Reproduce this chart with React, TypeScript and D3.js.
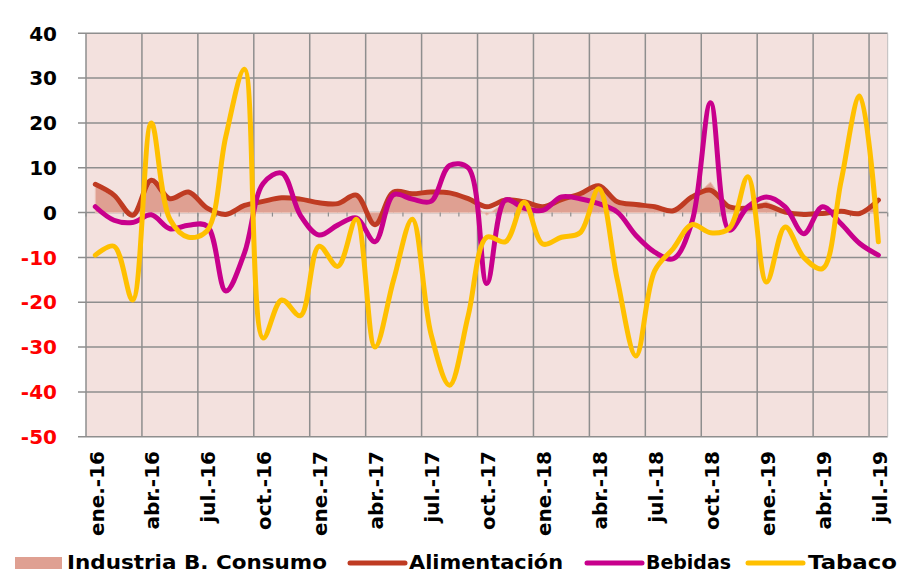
import React from 'react'
import * as d3 from 'd3'

const width = 901
const height = 574

const months = ['ene.', 'feb.', 'mar.', 'abr.', 'may.', 'jun.', 'jul.', 'ago.', 'sep.', 'oct.', 'nov.', 'dic.']
const years = ['16', '17', '18', '19']
const categories = years.flatMap(y => months.map(m => `${m}-${y}`)).slice(0, 43)

const industria = [6.0, 3.5, -0.5, 6.8, 3.0, 4.3, 1.0, -0.3, 1.5, 2.3, 3.0, 2.8, 2.0, 1.8, 3.6, -2.5, 4.3, 4.0, 4.3, 4.0, 3.0, -0.6, 2.5, 2.2, 1.2, 2.8, 3.8, 5.7, 2.2, 1.6, 1.2, 0.2, 3.2, 6.8, 0.8, 1.0, 2.5, 0.3, -0.5, -0.4, 0.2, -0.5, 2.5]
const alimentacion = [6.3, 3.9, -0.6, 7.2, 3.1, 4.6, 1.0, -0.4, 1.6, 2.5, 3.3, 3.0, 2.2, 2.0, 3.9, -2.7, 4.6, 4.2, 4.6, 4.4, 3.1, 1.3, 2.8, 2.4, 1.3, 2.9, 4.2, 6.0, 2.4, 1.8, 1.3, 0.4, 3.5, 5.0, 1.3, 1.0, 1.6, 0.1, -0.4, -0.2, 0.3, -0.2, 2.8]
const bebidas = [1.3, -1.7, -2.2, -0.5, -3.6, -2.8, -3.0, -17.5, -9.0, 6.5, 8.8, -0.6, -5.0, -2.8, -1.2, -6.5, 4.0, 3.0, 2.5, 10.5, 10.0, -15.8, 2.8, 1.0, 0.5, 3.5, 3.1, 2.0, 0.1, -5.1, -8.8, -10.3, -2.1, 24.5, -3.9, 1.3, 3.5, 1.3, -4.7, 1.3, -2.5, -6.9, -9.5]
const tabaco = [-9.5, -7.5, -19.5, 20, -1.5, -5.5, -4, 17, 32, -28, -19.5, -23, -7.5, -12, -1.5, -30, -15, -1.5, -27, -38.5, -23, -5.5, -6.5, 2.3, -7, -5.5, -4.5, 5.3, -15, -32, -13, -8, -2.7, -4.5, -3.5, 8, -15.5, -3.2, -10, -12.5, 7, 26, -6.5]

const yTicks = [40, 30, 20, 10, 0, -10, -20, -30, -40, -50]

const colors = {
  plot: '#F3E1DE',
  grid: '#8E8E8E',
  area: '#DFA092',
  areaEdge: '#EDC3B8',
  alimentacion: '#BF3B22',
  bebidas: '#C8008C',
  tabaco: '#FFC000'
}

const font = '"DejaVu Sans", Verdana, sans-serif'

const left = 86
const right = 887.7
const top = 33.3
const bottom = 436.7

const App = () => {
  const x = d3.scaleBand().domain(categories).range([left, right]).padding(0)
  const bw = x.bandwidth()
  const cx = (i: number) => (x(categories[i]) as number) + bw / 2
  const y = d3.scaleLinear().domain([-50, 40]).range([bottom, top])

  const line = d3
    .line<number>()
    .x((d, i) => cx(i))
    .y(d => y(d))
    .curve(d3.curveCatmullRom.alpha(0.5))

  const area = d3
    .area<number>()
    .x((d, i) => cx(i))
    .y0(y(0))
    .y1(d => y(d))

  const gridX = d3.range(0, categories.length, 3).map(i => x(categories[i]) as number)
  const zeroTicks = d3.range(0, categories.length + 1).map(i => left + i * bw)

  const series = [
    { name: 'Alimentación', data: alimentacion, color: colors.alimentacion },
    { name: 'Bebidas', data: bebidas, color: colors.bebidas },
    { name: 'Tabaco', data: tabaco, color: colors.tabaco }
  ]

  const legend = [
    { name: 'Industria B. Consumo', kind: 'rect', color: colors.area, x0: 15, x1: 62, tx: 67, tw: 260 },
    { name: 'Alimentación', kind: 'line', color: colors.alimentacion, x0: 350, x1: 405, tx: 409, tw: 154 },
    { name: 'Bebidas', kind: 'line', color: colors.bebidas, x0: 587, x1: 642, tx: 646, tw: 85 },
    { name: 'Tabaco', kind: 'line', color: colors.tabaco, x0: 748, x1: 803, tx: 808, tw: 89 }
  ]

  return (
    <svg
      width={width}
      height={height}
      style={{ position: 'absolute', left: 0, top: 0, background: '#fff' }}
      fontFamily={font}
      fontWeight="bold"
    >
      <rect x={left} y={top} width={right - left} height={bottom - top} fill={colors.plot} />

      {/* grid */}
      {yTicks.map(t => (
        <line key={'h' + t} x1={left - 8} x2={right} y1={y(t)} y2={y(t)} stroke={colors.grid} strokeWidth={1.5} />
      ))}
      {gridX.map((gx, i) => (
        <line key={'v' + i} x1={gx} x2={gx} y1={top} y2={bottom} stroke={colors.grid} strokeWidth={1.5} />
      ))}
      <line x1={right} x2={right} y1={top} y2={bottom} stroke="#BDBDBD" strokeWidth={1} />

      {/* area */}
      <path d={area(industria) as string} fill={colors.area} stroke={colors.areaEdge} strokeWidth={1} />

      {zeroTicks.map((tx, i) => (
        <line key={'z' + i} x1={tx} x2={tx} y1={y(0)} y2={y(0) + 4} stroke={colors.grid} strokeWidth={1.2} />
      ))}

      {series.map(s => (
        <path
          key={s.name}
          d={line(s.data) as string}
          fill="none"
          stroke={s.color}
          strokeWidth={5}
          strokeLinejoin="round"
          strokeLinecap="round"
        />
      ))}

      {/* y axis labels */}
      {yTicks.map(t => (
        <text
          key={'yl' + t}
          x={57}
          y={y(t)}
          dy="0.36em"
          textAnchor="end"
          fontSize={20}
          fill={t < 0 ? '#FF0000' : '#000'}
        >
          {t}
        </text>
      ))}

      {/* x axis labels */}
      {categories.map((c, i) =>
        i % 3 === 0 ? (
          <text
            key={c}
            transform={`translate(${cx(i) + 1},451) rotate(-90)`}
            textAnchor="end"
            dy="0.36em"
            fontSize={20}
            fill="#000"
          >
            {c}
          </text>
        ) : null
      )}

      {/* legend */}
      {legend.map(l => (
        <g key={l.name}>
          {l.kind === 'rect' ? (
            <rect x={l.x0} y={557} width={l.x1 - l.x0} height={12} fill={l.color} />
          ) : (
            <line x1={l.x0} x2={l.x1} y1={563} y2={563} stroke={l.color} strokeWidth={5} strokeLinecap="round" />
          )}
          <text x={l.tx} y={569} fontSize={19} textLength={l.tw} lengthAdjust="spacingAndGlyphs" fill="#000">
            {l.name}
          </text>
        </g>
      ))}
    </svg>
  )
}

export default App
